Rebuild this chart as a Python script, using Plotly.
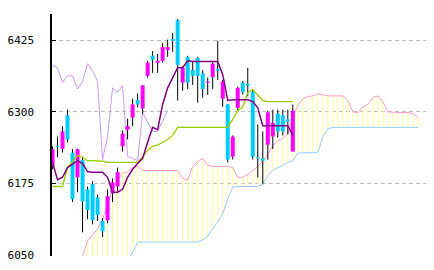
import plotly.graph_objects as go

# ---- candle data (index 0..48) ----
opens = [6205, 6241, 6236, 6294, 6229, 6186, 6216, 6165, 6174, 6151,
         6110, 6111, 6158, 6170, 6240, 6269, 6290, 6321, 6306, 6363,
         6398, 6386, 6389, 6408, 6427, 6460, 6351, 6396, 6373, 6394,
         6367, 6351, 6361, 6375, 6323, 6313, 6222, 6307, 6351, 6349,
         6335, 6221, 6219, 6243, 6257, 6297, 6294, 6287, 6231]
highs = [6240, 6257, 6275, 6304, 6235, 6236, 6222, 6170, 6179, 6156,
         6115, 6165, 6184, 6203, 6268, 6288, 6323, 6332, 6347, 6389,
         6406, 6401, 6420, 6426, 6438, 6462, 6380, 6398, 6387, 6396,
         6373, 6360, 6389, 6424, 6356, 6314, 6259, 6344, 6354, 6377,
         6339, 6278, 6266, 6302, 6304, 6304, 6304, 6304, 6313]
lows = [6200, 6221, 6229, 6247, 6143, 6160, 6090, 6113, 6104, 6110,
        6082, 6106, 6143, 6162, 6231, 6252, 6275, 6308, 6297, 6360,
        6368, 6368, 6386, 6396, 6405, 6320, 6337, 6340, 6347, 6316,
        6325, 6330, 6340, 6356, 6309, 6212, 6217, 6300, 6330, 6327,
        6217, 6186, 6174, 6217, 6235, 6255, 6259, 6261, 6231]
closes = [6235, 6239, 6266, 6252, 6148, 6235, 6144, 6129, 6111, 6120,
          6092, 6153, 6177, 6195, 6262, 6275, 6313, 6313, 6346, 6386,
          6391, 6389, 6413, 6413, 6424, 6382, 6377, 6351, 6363, 6363,
          6340, 6353, 6384, 6372, 6353, 6217, 6257, 6342, 6334, 6346,
          6222, 6219, 6215, 6299, 6281, 6266, 6266, 6283, 6302]

# ---- Ichimoku lines ----
tenkan = [6212, 6182, 6186, 6203, 6209, 6215, 6210, 6196, 6195, 6195,
          6195, 6186, 6160, 6160, 6165, 6186, 6200, 6210, 6219, 6247,
          6273, 6269, 6313, 6342, 6360, 6377, 6377, 6389, 6388, 6388,
          6388, 6388, 6388, 6388, 6365, 6320, 6321, 6321, 6321, 6321,
          6318, 6307, 6276, 6276, 6276, 6276, 6276, 6276, 6259]
kijun = [6170, 6170, 6170, 6203, 6214, 6224, 6221, 6215, 6215, 6215,
         6214, 6212, 6212, 6212, 6212, 6212, 6212, 6212, 6222, 6233,
         6240, 6242, 6247, 6252, 6259, 6273, 6273, 6273, 6273, 6273,
         6273, 6273, 6273, 6273, 6273, 6273, 6287, 6302, 6309, 6334,
         6339, 6329, 6320, 6318, 6318, 6318, 6318, 6318, 6318]
LAG = 25          # lagging span shift
SPAN_START = 5    # first index of the leading spans
span_a = [6035, 6049, 6075, 6085, 6096, 6113, 6139, 6165, 6182, 6193,
          6196, 6203, 6205, 6198, 6198, 6198, 6198, 6198, 6198, 6198,
          6198, 6184, 6181, 6205, 6214, 6219, 6207, 6205, 6205, 6205,
          6205, 6203, 6186, 6186, 6191, 6198, 6205, 6214, 6226, 6241,
          6250, 6254, 6262, 6290, 6312, 6323, 6327, 6328, 6332, 6330,
          6328, 6328, 6328, 6328, 6320, 6300, 6299, 6309, 6313, 6325,
          6328, 6318, 6300, 6299, 6299, 6299, 6299, 6297, 6290]
span_b = [6040, 6040, 6040, 6040, 6040, 6040, 6040, 6040, 6040, 6040,
          6040, 6055, 6073, 6073, 6073, 6073, 6073, 6073, 6073, 6073,
          6073, 6073, 6073, 6073, 6073, 6077, 6083, 6096, 6108, 6123,
          6148, 6169, 6170, 6170, 6170, 6170, 6170, 6174, 6189, 6198,
          6202, 6207, 6212, 6215, 6228, 6229, 6229, 6229, 6229, 6257,
          6271, 6273, 6273, 6273, 6273, 6273, 6273, 6273, 6273, 6273,
          6273, 6273, 6273, 6273, 6273, 6273, 6273, 6273, 6273]
y_ticks = [6050, 6175, 6300, 6425]

n = len(closes)
idx = list(range(n))
span_x = list(range(SPAN_START, SPAN_START + len(span_a)))


def segs(xs, y0s, y1s):
    X, Y = [], []
    for x, a, b in zip(xs, y0s, y1s):
        X += [x, x, None]
        Y += [a, b, None]
    return X, Y


fig = go.Figure()

# cloud fill (vertical yellow lines)
pa = [(x, a, b) for x, a, b in zip(span_x, span_a, span_b) if a >= b]
cx, cy = segs([p[0] for p in pa], [p[2] for p in pa], [p[1] for p in pa])
fig.add_trace(go.Scatter(x=cx, y=cy, mode="lines",
                         line=dict(color="#FFFF99", width=1)))
pb = [(x, a, b) for x, a, b in zip(span_x, span_a, span_b) if a < b]
if pb:
    bx, by = segs([p[0] for p in pb], [p[1] for p in pb], [p[2] for p in pb])
    fig.add_trace(go.Scatter(x=bx, y=by, mode="lines",
                             line=dict(color="#CCCCFF", width=1)))

fig.add_trace(go.Scatter(x=span_x, y=span_a, mode="lines",
                         line=dict(color="#FF99CC", width=1)))
fig.add_trace(go.Scatter(x=span_x, y=span_b, mode="lines",
                         line=dict(color="#99CCFF", width=1)))
# lagging span
fig.add_trace(go.Scatter(x=idx[:n - LAG], y=closes[LAG:], mode="lines",
                         line=dict(color="#CC99FF", width=1)))

# wicks
wx, wy = segs(idx, lows, highs)
fig.add_trace(go.Scatter(x=wx, y=wy, mode="lines",
                         line=dict(color="black", width=1)))
# bodies
up = [i for i in idx if closes[i] > opens[i]]
dn = [i for i in idx if closes[i] <= opens[i]]
ux, uy = segs(up, [opens[i] for i in up], [closes[i] for i in up])
dx, dy = segs(dn, [opens[i] for i in dn], [closes[i] for i in dn])
fig.add_trace(go.Scatter(x=ux, y=uy, mode="lines",
                         line=dict(color="#FF00FF", width=4)))
fig.add_trace(go.Scatter(x=dx, y=dy, mode="lines",
                         line=dict(color="#00CCFF", width=4)))

fig.add_trace(go.Scatter(x=idx, y=kijun, mode="lines",
                         line=dict(color="#99CC00", width=1.3)))
fig.add_trace(go.Scatter(x=idx, y=tenkan, mode="lines",
                         line=dict(color="#800080", width=1.5)))

fig.update_layout(
    width=434, height=270,
    margin=dict(l=45, r=8, t=14, b=13),
    paper_bgcolor="white", plot_bgcolor="white",
    showlegend=False, hovermode=False,
    xaxis=dict(range=[-0.1, 74.6], showgrid=False, zeroline=False,
               showline=False, showticklabels=False, ticks=""),
    yaxis=dict(range=[6048.8, 6470.7], tickvals=y_ticks,
               ticktext=[str(v) for v in y_ticks],
               ticks="inside", ticklen=4, tickwidth=1, tickcolor="black",
               showline=True, linecolor="black", linewidth=1.5,
               showgrid=True, gridcolor="#C0C0C0", gridwidth=1,
               griddash="4px,3px", zeroline=False,
               ticklabelstandoff=14,
               tickfont=dict(family="DejaVu Sans Mono", size=11,
                             color="black")),
)

fig.write_html("out.html")
